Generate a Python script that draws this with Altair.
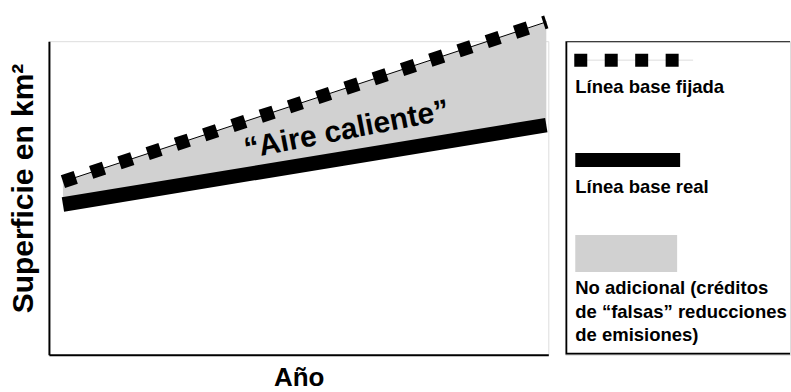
import altair as alt
import pandas as pd

# ---- data ----
years = [2.8, 99.6]                 # conceptual time axis (0-100, no ticks)
fixed_baseline = [173.4, 333.3]     # "Línea base fijada"
real_baseline = [150.5, 230.0]      # "Línea base real"
annotation = ["“Aire caliente”"]
annotation_year = [59.6]
annotation_value = [225.0]
legend_labels = ["Línea base fijada", "Línea base real"]
legend_multiline = ["No adicional (créditos", "de “falsas” reducciones", "de emisiones)"]

FONT = "Liberation Sans"
W, H = 500, 314
LW = 225

df = pd.DataFrame({"year": years, "fixed": fixed_baseline, "real": real_baseline})
ann = pd.DataFrame({"year": annotation_year, "value": annotation_value, "label": annotation})

xs = alt.Scale(domain=[0, 100], nice=False, zero=False)
ys = alt.Scale(domain=[0, H], nice=False, zero=False)

x_axis = alt.Axis(title="Año", ticks=False, labels=False, grid=False, domainColor="black",
                  domainWidth=2, titleFontSize=26, titleFont=FONT, titleFontWeight="bold",
                  titleColor="black", titleY=30.5, titleBaseline="alphabetic")
y_axis = alt.Axis(title="Superficie en km²", ticks=False, labels=False, grid=False,
                  domainColor="black", domainWidth=2, titleFontSize=30, titleFont=FONT,
                  titleFontWeight="bold", titleColor="black", titleX=-16, titleY=147,
                  titleAngle=270, titleBaseline="alphabetic", titleAlign="center")

X = alt.X("year:Q", scale=xs, axis=x_axis)

area = alt.Chart(df).mark_area(color="#d1d1d1").encode(
    x=X, y=alt.Y("real:Q", scale=ys, axis=y_axis), y2="fixed:Q")
real_line = alt.Chart(df).mark_line(color="black", strokeWidth=14.5, strokeCap="butt",
                                    strokeJoin="bevel").encode(
    x=X, y=alt.Y("real:Q", scale=ys, axis=y_axis))
fixed_thin = alt.Chart(df).mark_line(color="black", strokeWidth=1, strokeJoin="bevel").encode(
    x=X, y=alt.Y("fixed:Q", scale=ys, axis=y_axis))
fixed_dash = alt.Chart(df).mark_line(color="black", strokeWidth=13.5, strokeCap="butt",
                                     strokeJoin="bevel", strokeDash=[13.5, 16.3]).encode(
    x=X, y=alt.Y("fixed:Q", scale=ys, axis=y_axis))
label = alt.Chart(ann).mark_text(angle=349, fontSize=30, font=FONT, fontWeight="bold",
                                 color="black").encode(
    x=X, y=alt.Y("value:Q", scale=ys, axis=y_axis), text="label:N")

main = alt.layer(area, real_line, fixed_thin, fixed_dash, label).properties(width=W, height=H)

# ---- legend panel (its own pixel-like scales) ----
lx = alt.Scale(domain=[0, LW], nice=False, zero=False)
ly = alt.Scale(domain=[0, H], nice=False, zero=False, reverse=True)

def LX(f):
    return alt.X(f, scale=lx, axis=None)

def LY(f):
    return alt.Y(f, scale=ly, axis=None)

box = alt.Chart(pd.DataFrame({"x": [1], "x2": [LW + 40], "y": [0], "y2": [H - 1]})).mark_rect(
    fill="white", stroke="black", strokeWidth=2, clip=True).encode(
    x=LX("x:Q"), x2="x2:Q", y=LY("y:Q"), y2="y2:Q")

samp = pd.DataFrame({"x": [9, 116], "y": [19, 19]})
samp_thin = pd.DataFrame({"x": [9, 128], "y": [19, 19]})
dash_thin = alt.Chart(samp_thin).mark_line(color="#dddddd", strokeWidth=1).encode(x=LX("x:Q"), y=LY("y:Q"))
dash_sym = alt.Chart(samp).mark_line(color="black", strokeWidth=13, strokeCap="butt",
                                     strokeDash=[13, 17.5]).encode(x=LX("x:Q"), y=LY("y:Q"))
bar_sym = alt.Chart(pd.DataFrame({"x": [10, 115], "y": [119, 119]})).mark_line(
    color="black", strokeWidth=14, strokeCap="butt").encode(x=LX("x:Q"), y=LY("y:Q"))
gray_sym = alt.Chart(pd.DataFrame({"x": [10], "x2": [112], "y": [194], "y2": [231]})).mark_rect(
    color="#d1d1d1").encode(x=LX("x:Q"), x2="x2:Q", y=LY("y:Q"), y2="y2:Q")

text_rows = pd.DataFrame({
    "x": [10] * 5,
    "y": [46, 146, 247, 271, 294],
    "t": legend_labels + legend_multiline,
})
texts = alt.Chart(text_rows).mark_text(align="left", baseline="middle", fontSize=18.5, font=FONT,
                                       fontWeight="bold", color="black", clip=True).encode(
    x=LX("x:Q"), y=LY("y:Q"), text="t:N")

legend = alt.layer(box, dash_thin, dash_sym, bar_sym, gray_sym, texts).properties(width=LW, height=H)

chart = alt.hconcat(main, legend, spacing=17, bounds="flush").properties(
    padding={"left": 8, "top": 14, "right": 0, "bottom": 0}
).configure_view(stroke=None).configure(background="white")

chart.save("out.html", embed_options={"renderer": "svg", "actions": False})
